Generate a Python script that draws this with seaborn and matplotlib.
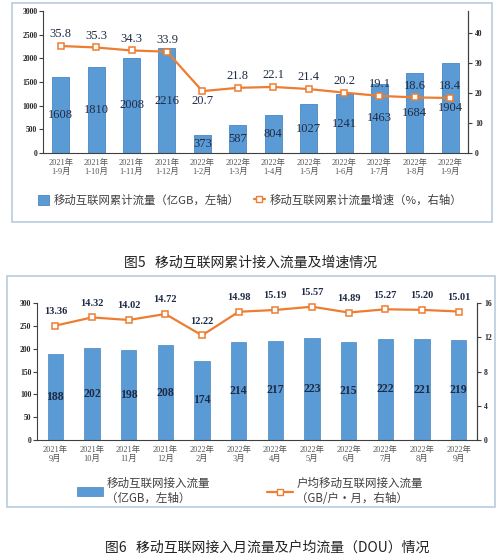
import numpy as np
import pandas as pd
import matplotlib
matplotlib.use("Agg")
import matplotlib.pyplot as plt
import seaborn as sns
from matplotlib.patches import Rectangle, Patch
from matplotlib.lines import Line2D

sns.set_style("white")
plt.rcParams['font.family'] = ['Liberation Serif', 'Noto Sans CJK SC', 'DejaVu Sans']

# 图5 data
cum_labels = ["2021年\n1-9月", "2021年\n1-10月", "2021年\n1-11月", "2021年\n1-12月",
              "2022年\n1-2月", "2022年\n1-3月", "2022年\n1-4月", "2022年\n1-5月",
              "2022年\n1-6月", "2022年\n1-7月", "2022年\n1-8月", "2022年\n1-9月"]
cum_traffic = [1608, 1810, 2008, 2216, 373, 587, 804, 1027, 1241, 1463, 1684, 1904]
cum_growth = [35.8, 35.3, 34.3, 33.9, 20.7, 21.8, 22.1, 21.4, 20.2, 19.1, 18.6, 18.4]

# 图6 data
month_labels = ["2021年\n9月", "2021年\n10月", "2021年\n11月", "2021年\n12月",
                "2022年\n2月", "2022年\n3月", "2022年\n4月", "2022年\n5月",
                "2022年\n6月", "2022年\n7月", "2022年\n8月", "2022年\n9月"]
month_traffic = [188, 202, 198, 208, 174, 214, 217, 223, 215, 222, 221, 219]
dou = [13.36, 14.32, 14.02, 14.72, 12.22, 14.98, 15.19, 15.57, 14.89, 15.27, 15.20, 15.01]

BLUE = "#5B9BD5"
EDGE = "#4A86C0"
ORANGE = "#ED7D31"
FRAME = "#B8CCE0"
AX = "#404040"
LBL = "#1F2A44"
CJK = ['Noto Sans CJK SC', 'DejaVu Sans']

fig = plt.figure(figsize=(5.0, 5.59), dpi=100)

# frames
fig.patches.append(Rectangle((0.024, 0.603), 0.96, 0.392, transform=fig.transFigure,
                             fill=False, edgecolor=FRAME, linewidth=1.2))
fig.patches.append(Rectangle((0.014, 0.093), 0.976, 0.413, transform=fig.transFigure,
                             fill=False, edgecolor=FRAME, linewidth=1.2))


def style_axes(ax, ax2, n):
    for s in ["top"]:
        ax.spines[s].set_visible(False)
        ax2.spines[s].set_visible(False)
    for s in ["left", "bottom"]:
        ax.spines[s].set_color(AX)
        ax.spines[s].set_linewidth(0.8)
    ax2.spines["right"].set_color(AX)
    ax2.spines["right"].set_linewidth(0.8)
    ax2.spines["left"].set_visible(False)
    ax2.spines["bottom"].set_visible(False)
    ax.set_xlim(-0.5, n - 0.5)
    ax.set_xticks(np.arange(-0.5, n, 1.0), minor=True)
    ax.tick_params(axis="x", which="major", length=0, pad=4, labelsize=6, colors="#555555")
    ax.tick_params(axis="x", which="minor", length=3, color=AX, width=0.8)
    ax.tick_params(axis="y", length=3, color=AX, width=0.8, labelsize=5.5, pad=1)
    ax2.tick_params(axis="y", length=3, color=AX, width=0.8, labelsize=5.5, pad=2)
    for t in ax.get_yticklabels() + ax2.get_yticklabels():
        t.set_fontweight("bold")
    for t in ax.get_xticklabels():
        t.set_family(['Liberation Serif', 'Noto Sans CJK SC'])
        t.set_linespacing(1.3)
    ax.set_xlabel("")
    ax.set_ylabel("")
    ax2.set_xlabel("")
    ax2.set_ylabel("")


# ---------------- 图5 ----------------
ax1 = fig.add_axes([0.086, 0.7263, 0.85, 0.254])
df1 = pd.DataFrame({"month": cum_labels, "traffic": cum_traffic, "growth": cum_growth})
sns.barplot(data=df1, x="month", y="traffic", color=BLUE, width=0.48, ax=ax1,
            edgecolor=EDGE, linewidth=0.6, saturation=1)
ax1.set_ylim(0, 3000)
ax1.set_yticks(range(0, 3001, 500))
ax1.bar_label(ax1.containers[0], labels=[str(v) for v in cum_traffic], label_type="center",
              fontsize=9, color=LBL)

ax1b = ax1.twinx()
sns.lineplot(x=np.arange(len(cum_growth)), y=cum_growth, ax=ax1b, color=ORANGE, linewidth=1.6,
             marker="s", markersize=4, markerfacecolor="white", markeredgecolor=ORANGE,
             markeredgewidth=1.1)
ax1b.set_ylim(0, 47.5)
ax1b.set_yticks([0, 10, 20, 30, 40])
for i, v in enumerate(cum_growth):
    if i == 4:
        ax1b.annotate(f"{v:.1f}", (i, v), xytext=(0, -3), textcoords="offset points",
                      ha="center", va="top", fontsize=9, color=LBL)
    else:
        ax1b.annotate(f"{v:.1f}", (i, v), xytext=(0, 4), textcoords="offset points",
                      ha="center", va="bottom", fontsize=9, color=LBL)
style_axes(ax1, ax1b, 12)

h1 = [Patch(facecolor=BLUE, edgecolor=EDGE, linewidth=0.6),
      Line2D([0], [0], color=ORANGE, linewidth=1.6, marker="s", markersize=4,
             markerfacecolor="white", markeredgecolor=ORANGE)]
fig.legend(h1, ["移动互联网累计流量（亿GB，左轴）", "移动互联网累计流量增速（%，右轴）"],
           loc="center", bbox_to_anchor=(0.5, 0.642), ncol=2, frameon=False,
           prop={"family": CJK, "size": 8.2}, handlelength=1.0, handleheight=1.0,
           columnspacing=1.2, handletextpad=0.4, labelcolor="#404040")

fig.text(0.5, 0.5295, "图5   移动互联网累计接入流量及增速情况", ha="center", va="center",
         family=CJK, fontsize=10, color="#222222")

# ---------------- 图6 ----------------
ax2 = fig.add_axes([0.074, 0.2129, 0.88, 0.245])
df2 = pd.DataFrame({"month": month_labels, "traffic": month_traffic, "dou": dou})
sns.barplot(data=df2, x="month", y="traffic", color=BLUE, width=0.42, ax=ax2,
            edgecolor=EDGE, linewidth=0.5, saturation=1)
ax2.set_ylim(0, 300)
ax2.set_yticks(range(0, 301, 50))
ax2.bar_label(ax2.containers[0], labels=[str(v) for v in month_traffic], label_type="center",
              fontsize=8.5, fontweight="bold", color=LBL)

ax2b = ax2.twinx()
sns.lineplot(x=np.arange(len(dou)), y=dou, ax=ax2b, color=ORANGE, linewidth=1.6,
             marker="s", markersize=4, markerfacecolor="white", markeredgecolor=ORANGE,
             markeredgewidth=1.1)
ax2b.set_ylim(0, 16)
ax2b.set_yticks([0, 4, 8, 12, 16])
for i, v in enumerate(dou):
    ax2b.annotate(f"{v:.2f}", (i, v), xytext=(0, 7), textcoords="offset points",
                  ha="center", va="bottom", fontsize=7.5, fontweight="bold", color=LBL,
                  annotation_clip=False)
style_axes(ax2, ax2b, 12)

h2 = [Patch(facecolor=BLUE, edgecolor=EDGE, linewidth=0.5),
      Line2D([0], [0], color=ORANGE, linewidth=1.6, marker="s", markersize=4,
             markerfacecolor="white", markeredgecolor=ORANGE)]
fig.legend(h2, ["移动互联网接入流量\n（亿GB，左轴）", "户均移动互联网接入流量\n（GB/户·月，右轴）"],
           loc="center", bbox_to_anchor=(0.5, 0.122), ncol=2, frameon=False,
           prop={"family": CJK, "size": 8.3}, handlelength=2.2, handleheight=0.8,
           columnspacing=5.0, handletextpad=0.3, labelcolor="#404040")

fig.text(0.535, 0.021, "图6   移动互联网接入月流量及户均流量（DOU）情况", ha="center", va="center",
         family=CJK, fontsize=10, color="#222222")

fig.savefig("out.png", dpi=100)
